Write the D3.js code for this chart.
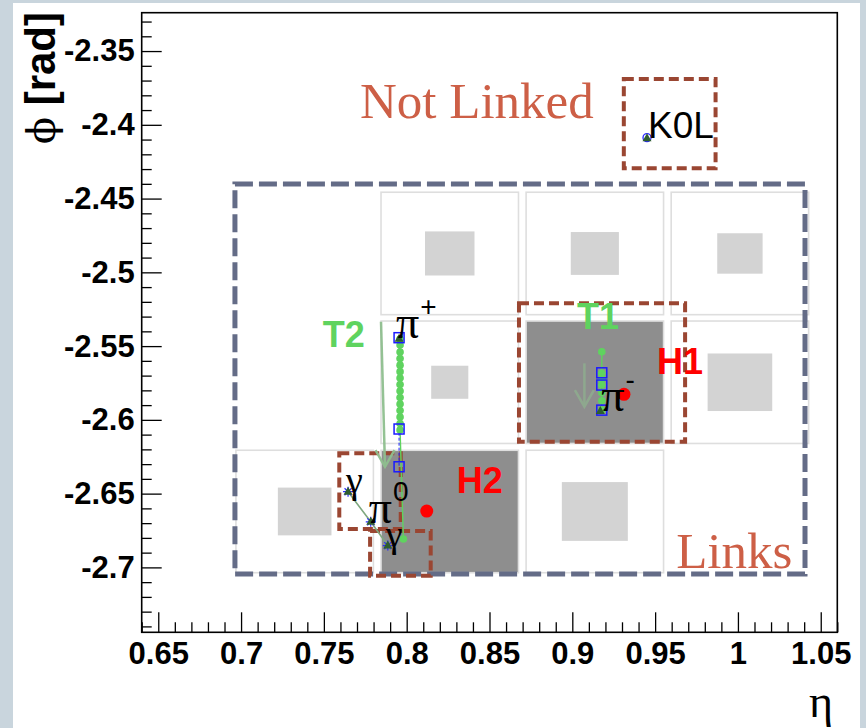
<!DOCTYPE html>
<html><head><meta charset="utf-8">
<script src="https://cdn.jsdelivr.net/npm/d3@7"></script>
<style>
html,body{margin:0;padding:0;background:#c9d5dd;}
svg{display:block;}
</style></head><body>
<svg id="chart" width="866" height="728"></svg>
<script>
// ---- axis ranges and ticks ----
const etaRange = [0.64, 1.06];
const phiRange = [-2.744, -2.324];
const etaTicks = [0.65, 0.7, 0.75, 0.8, 0.85, 0.9, 0.95, 1, 1.05];
const etaTickLabels = ["0.65", "0.7", "0.75", "0.8", "0.85", "0.9", "0.95", "1", "1.05"];
const phiTicks = [-2.35, -2.4, -2.45, -2.5, -2.55, -2.6, -2.65, -2.7];
const phiTickLabels = ["-2.35", "-2.4", "-2.45", "-2.5", "-2.55", "-2.6", "-2.65", "-2.7"];

// ---- calorimeter cells (centre eta/phi, deposited-energy fraction, linked hit) ----
const cellEta = [0.8260, 0.9136, 1.0012, 0.8260, 0.9136, 1.0012, 0.7384, 0.8260, 0.9136];
const cellPhi = [-2.4872, -2.4872, -2.4872, -2.5745, -2.5745, -2.5745, -2.6621, -2.6621, -2.6621];
const cellEnergy = [0.36, 0.35, 0.33, 0.27, 1.0, 0.47, 0.39, 1.0, 0.48];
const cellHit = [false, false, false, false, true, false, false, true, false];
const cellWidth = 0.083;

// ---- clusters ----
const clusterName = ["H1", "H2"];
const clusterEta = [0.9312, 0.8121];
const clusterPhi = [-2.5827, -2.6618];

// ---- track T2 (pi+) ----
const t2DotEta = [0.7960, 0.7960, 0.7960, 0.7960, 0.7960, 0.7960, 0.7960, 0.7960, 0.7960, 0.7960, 0.7960, 0.7960, 0.7960, 0.7960, 0.7960];
const t2DotPhi = [-2.5452, -2.5493, -2.5540, -2.5584, -2.5629, -2.5673, -2.5717, -2.5761, -2.5805, -2.5849, -2.5893, -2.5937, -2.5981, -2.6025, -2.6069];
const t2PointEta = [0.7954, 0.7954, 0.7954];
const t2PointPhi = [-2.5443, -2.6062, -2.6318];
const t2End = [0.7980, -2.6808];

// ---- track T1 (pi-) ----
const t1DotEta = [0.9178, 0.9178, 0.9178, 0.9178, 0.9178, 0.9178, 0.9178];
const t1DotPhi = [-2.5538, -2.5684, -2.5724, -2.5764, -2.5815, -2.5870, -2.5934];
const t1PointEta = [0.9178, 0.9178, 0.9178];
const t1PointPhi = [-2.5681, -2.5764, -2.5934];
const t1Origin = [0.9169, -2.5940];

// ---- neutral particles ----
const neutralName = ["γ", "π", "γ"];
const neutralSup = ["", "0", ""];
const neutralEta = [0.7646, 0.7783, 0.7886];
const neutralPhi = [-2.6487, -2.6691, -2.6852];
const k0lEta = 0.9451, k0lPhi = -2.4087;

// ---- track direction arrows [eta0, phi0, eta1, phi1] ----
const arrowT2 = [0.7845, -2.5335, 0.7869, -2.6318];
const arrowT1 = [0.9073, -2.5617, 0.9073, -2.5911];

// ---- annotation boxes [etaMin, etaMax, phiMax, phiMin] ----
const linkBox = [0.6963, 1.0405, -2.4401, -2.7045];
const groupBoxes = [
  [0.9311, 0.9865, -2.3689, -2.4295],
  [0.8678, 0.9681, -2.5210, -2.6149],
  [0.7593, 0.7964, -2.6227, -2.6740],
  [0.7779, 0.8145, -2.6754, -2.7057]
];

const svg = d3.select("#chart");
const W = 866, H = 728;
const L = 141.7, R = 837.3, T = 12.7, B = 632.3;

svg.append("rect").attr("x", 13).attr("y", 3).attr("width", 847).attr("height", H).attr("fill", "#ffffff");

const x = d3.scaleLinear().domain(etaRange).range([L, R]);
const y = d3.scaleLinear().domain(phiRange).range([B, T]);

const plot = svg.append("g");

// cells
const cells = plot.append("g");
cellEta.forEach((e, i) => {
  const x0 = x(e - cellWidth / 2), x1 = x(e + cellWidth / 2);
  const y0 = y(cellPhi[i] + cellWidth / 2), y1 = y(cellPhi[i] - cellWidth / 2);
  cells.append("rect").attr("x", x0).attr("y", y0).attr("width", x1 - x0).attr("height", y1 - y0)
    .attr("fill", cellHit[i] ? "#8e8e8e" : "#ffffff").attr("stroke", "#dedede").attr("stroke-width", 1.6);
  if (!cellHit[i]) {
    const h = cellWidth * cellEnergy[i] / 2;
    const sx0 = x(e - h), sx1 = x(e + h), sy0 = y(cellPhi[i] + h), sy1 = y(cellPhi[i] - h);
    cells.append("rect").attr("x", sx0).attr("y", sy0).attr("width", sx1 - sx0).attr("height", sy1 - sy0)
      .attr("fill", "#d3d3d3");
  }
});

// annotation boxes
function box(b, color, width, dash) {
  plot.append("rect").attr("x", x(b[0])).attr("y", y(b[2]))
    .attr("width", x(b[1]) - x(b[0])).attr("height", y(b[3]) - y(b[2]))
    .attr("fill", "none").attr("stroke", color).attr("stroke-width", width).attr("stroke-dasharray", dash);
}
box(linkBox, "#646c87", 5, "18 6");
groupBoxes.forEach(b => box(b, "#9a4632", 4, "10 5"));

// direction arrows
function arrow(a, opacity) {
  const g = plot.append("g").attr("stroke", "#8fbf8f").attr("stroke-width", 2.5).attr("fill", "none").attr("opacity", opacity);
  const tx = x(a[2]), ty = y(a[3]);
  g.append("line").attr("x1", x(a[0])).attr("y1", y(a[1])).attr("x2", tx).attr("y2", ty);
  g.append("path").attr("d", `M${tx - 9.5},${ty - 16.7}L${tx},${ty}L${tx + 9.5},${ty - 16.7}`);
}
arrow(arrowT2, 0.95);
arrow(arrowT1, 0.55);

// photon links
const nLine = d3.line().x(d => x(d[0])).y(d => y(d[1]));
plot.append("path").attr("d", nLine(neutralEta.map((e, i) => [e, neutralPhi[i]])))
  .attr("fill", "none").attr("stroke", "#7fa87f").attr("stroke-width", 1.6);

// tracks
function track(dotEta, dotPhi, ptEta, ptPhi, extra) {
  const g = plot.append("g");
  const pts = dotEta.map((e, i) => [e, dotPhi[i]]).concat(extra);
  pts.sort((a, b) => b[1] - a[1]);
  g.append("path").attr("d", nLine(pts)).attr("fill", "none").attr("stroke", "#5fd35f").attr("stroke-width", 1.4);
  g.append("path").attr("d", nLine(ptEta.map((e, i) => [e, ptPhi[i]])))
    .attr("fill", "none").attr("stroke", "#1f1fff").attr("stroke-width", 1).attr("stroke-dasharray", "3 2");
  g.selectAll("circle.dot").data(dotEta).join("circle").attr("class", "dot")
    .attr("cx", d => x(d)).attr("cy", (d, i) => y(dotPhi[i])).attr("r", 3.8).attr("fill", "#5fd35f");
  g.selectAll("rect.pt").data(ptEta).join("rect").attr("class", "pt")
    .attr("x", d => x(d) - 5).attr("y", (d, i) => y(ptPhi[i]) - 5).attr("width", 10).attr("height", 10)
    .attr("fill", "none").attr("stroke", "#1a1aff").attr("stroke-width", 1.5);
  return g;
}
const g2 = track(t2DotEta, t2DotPhi, t2PointEta, t2PointPhi, [t2End]);
g2.append("circle").attr("cx", x(t2End[0])).attr("cy", y(t2End[1])).attr("r", 3.8).attr("fill", "#5fd35f");
const g1 = track(t1DotEta, t1DotPhi, t1PointEta, t1PointPhi, [t1Origin]);

function tri(px, py) {
  plot.append("path").attr("d", `M${px},${py - 5}L${px + 4.5},${py + 3}L${px - 4.5},${py + 3}Z`).attr("fill", "#2e5e2e");
}
function star(px, py) {
  const s = 5;
  plot.append("path").attr("d", `M${px - s},${py}L${px + s},${py}M${px},${py - s}L${px},${py + s}M${px - s * 0.7},${py - s * 0.7}L${px + s * 0.7},${py + s * 0.7}M${px - s * 0.7},${py + s * 0.7}L${px + s * 0.7},${py - s * 0.7}`)
    .attr("stroke", "#2a2aff").attr("stroke-width", 1.2);
}
tri(x(t2PointEta[0]), y(t2PointPhi[0]) + 1);
tri(x(t1Origin[0]), y(t1Origin[1]));
neutralEta.forEach((e, i) => { star(x(e), y(neutralPhi[i])); tri(x(e), y(neutralPhi[i])); });
plot.append("circle").attr("cx", x(k0lEta)).attr("cy", y(k0lPhi)).attr("r", 4).attr("fill", "none").attr("stroke", "#2a2aff").attr("stroke-width", 1.3);
tri(x(k0lEta), y(k0lPhi) + 0.5);

// clusters
plot.selectAll("circle.cl").data(clusterEta).join("circle").attr("class", "cl")
  .attr("cx", d => x(d)).attr("cy", (d, i) => y(clusterPhi[i])).attr("r", 6.5).attr("fill", "#ff0000");

// particle labels
function plabel(px, py, main, sup, size) {
  const t = plot.append("text").attr("x", px).attr("y", py).attr("fill", "#000");
  t.append("tspan").attr("font-family", "Liberation Serif").attr("font-size", size).text(main);
  if (sup) t.append("tspan").attr("dy", -22).attr("dx", 1).attr("font-family", "Liberation Sans").attr("font-size", 28).text(sup);
}
plabel(x(t2PointEta[0]) - 3, y(t2PointPhi[0]), "π", "+", 46);
plabel(x(t1Origin[0]) + 1, y(t1Origin[1]), "π", "-", 46);
neutralEta.forEach((e, i) => plabel(x(e) - 2, y(neutralPhi[i]) + 1, neutralName[i], neutralSup[i], i === 1 ? 46 : 38));
plot.append("text").attr("x", x(k0lEta) + 1).attr("y", y(k0lPhi)).attr("font-family", "Liberation Sans").attr("font-size", 37).text("K0L");

// cluster and track names
const bold = "Liberation Sans";
clusterName.forEach((n, i) => {
  const pos = i === 0 ? [0.9512, -2.5690] : [0.8302, -2.6496];
  plot.append("text").attr("x", x(pos[0])).attr("y", y(pos[1])).attr("font-family", bold).attr("font-weight", "bold")
    .attr("font-size", 36).attr("fill", "#ff0000").text(n);
});
plot.append("text").attr("x", x(0.7493)).attr("y", y(-2.5504)).attr("font-family", bold).attr("font-weight", "bold")
  .attr("font-size", 36).attr("fill", "#5fd35f").text("T2");
plot.append("text").attr("x", x(0.9029)).attr("y", y(-2.5387)).attr("font-family", bold).attr("font-weight", "bold")
  .attr("font-size", 36).attr("fill", "#5fd35f").text("T1");

// section captions
plot.append("text").attr("x", x(0.7718)).attr("y", y(-2.3954)).attr("font-family", "Liberation Serif")
  .attr("font-size", 51).attr("fill", "#cd5f46").text("Not Linked");
plot.append("text").attr("x", x(0.9627)).attr("y", y(-2.7005)).attr("font-family", "Liberation Serif")
  .attr("font-size", 51).attr("fill", "#cd5f46").text("Links");

// axes
const tickFont = g => g.selectAll("text").attr("font-family", "Liberation Sans").attr("font-weight", "bold").attr("font-size", 31).attr("fill", "#000");
const minorEta = d3.range(64, 107).map(v => v / 100).filter(v => !etaTicks.some(t => Math.abs(t - v) < 1e-6));
const minorPhi = d3.range(-274, -232).map(v => v / 100).filter(v => !phiTicks.some(t => Math.abs(t - v) < 1e-6));

svg.append("g").attr("transform", `translate(0,${B})`)
  .call(d3.axisBottom(x).tickValues(minorEta).tickSizeInner(-10).tickSizeOuter(0).tickFormat(""))
  .call(g => g.select(".domain").remove());
svg.append("g").attr("transform", `translate(${L},0)`)
  .call(d3.axisLeft(y).tickValues(minorPhi).tickSizeInner(-10).tickSizeOuter(0).tickFormat(""))
  .call(g => g.select(".domain").remove());
svg.append("g").attr("transform", `translate(0,${B})`)
  .call(d3.axisBottom(x).tickValues(etaTicks).tickSizeInner(-20).tickSizeOuter(0).tickPadding(10)
    .tickFormat((d, i) => etaTickLabels[i]))
  .call(tickFont).call(g => g.select(".domain").remove());
svg.append("g").attr("transform", `translate(${L},0)`)
  .call(d3.axisLeft(y).tickValues(phiTicks).tickSizeInner(-20).tickSizeOuter(0).tickPadding(7)
    .tickFormat((d, i) => phiTickLabels[i]))
  .call(tickFont).call(g => g.select(".domain").remove());
svg.selectAll(".tick line").attr("stroke", "#000").attr("stroke-width", 1.3);

// frame
svg.append("rect").attr("x", L).attr("y", T).attr("width", R - L).attr("height", B - T)
  .attr("fill", "none").attr("stroke", "#000").attr("stroke-width", 1.6);

// axis titles
svg.append("text").attr("x", 833).attr("y", 717).attr("text-anchor", "end")
  .attr("font-family", "Liberation Serif").attr("font-size", 46).text("η");
const yt = svg.append("text").attr("transform", "translate(55,12) rotate(-90)").attr("text-anchor", "end")
  .attr("font-family", "Liberation Sans").attr("font-weight", "bold").attr("font-size", 42);
yt.append("tspan").attr("font-family", "DejaVu Serif").attr("font-weight", "normal").attr("font-size", 40).text("ϕ");
yt.append("tspan").text(" [rad]");
</script>
</body></html>
